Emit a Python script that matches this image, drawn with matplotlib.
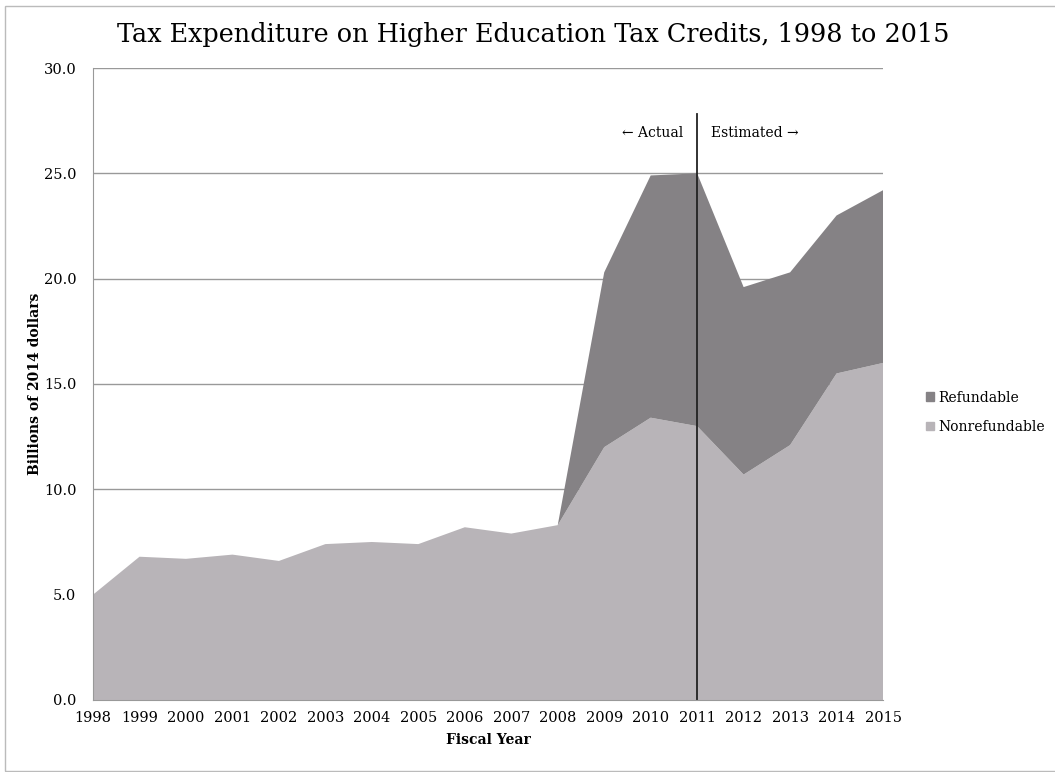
import numpy as np
import matplotlib
matplotlib.use("Agg")
import matplotlib.pyplot as plt
from matplotlib.patches import Rectangle, Patch

# Data (billions of 2014 dollars)
years = list(range(1998, 2016))
nonrefundable = [5.0, 6.8, 6.7, 6.9, 6.6, 7.4, 7.5, 7.4, 8.2, 7.9, 8.3,
                 12.0, 13.4, 13.0, 10.7, 12.1, 15.5, 16.0]
refundable = [0.0, 0.0, 0.0, 0.0, 0.0, 0.0, 0.0, 0.0, 0.0, 0.0, 0.0,
              8.3, 11.5, 12.0, 8.9, 8.2, 7.5, 8.2]
y_ticks = [0, 5, 10, 15, 20, 25, 30]

c_nonref = "#b8b4b8"
c_ref = "#858285"
serif = "DejaVu Serif"

plt.rcParams["font.family"] = serif

fig = plt.figure(figsize=(10.55, 7.72), dpi=100)
ax = fig.add_axes([0.0882, 0.0933, 0.7488, 0.8186])

ax.stackplot(years, nonrefundable, refundable,
             colors=[c_nonref, c_ref], linewidth=0)

ax.set_xlim(1998, 2015)
ax.set_ylim(0, 30)
ax.set_yticks(y_ticks)
ax.set_yticklabels([f"{v:.1f}" for v in y_ticks], fontsize=10.5)
ax.set_xticks(years)
ax.set_xticklabels([str(y) for y in years], fontsize=10.5)
ax.tick_params(axis="x", length=0, pad=8)
ax.tick_params(axis="y", length=0, pad=12)
ax.yaxis.grid(True, color="#999999", linewidth=1)
ax.set_axisbelow(True)
for side in ["top", "right"]:
    ax.spines[side].set_visible(False)
for side in ["left", "bottom"]:
    ax.spines[side].set_color("#999999")

# actual / estimated divider
ax.plot([2011, 2011], [0, 27.8], color="#222222", linewidth=1.3, clip_on=False)
ax.text(2010.7, 26.9, "\u2190 Actual", ha="right", va="center", fontsize=10)
ax.text(2011.3, 26.9, "Estimated \u2192", ha="left", va="center", fontsize=10)

ax.set_xlabel("Fiscal Year", fontsize=10, fontweight="bold", labelpad=6)
ax.set_ylabel("Billions of 2014 dollars", fontsize=10, fontweight="bold", labelpad=1)

fig.text(0.505, 0.955, "Tax Expenditure on Higher Education Tax Credits, 1998 to 2015",
         ha="center", va="center", fontsize=18.4)

handles = [Patch(color=c_ref, label="Refundable"),
           Patch(color=c_nonref, label="Nonrefundable")]
fig.legend(handles=handles, loc="center left", bbox_to_anchor=(0.866, 0.466),
           frameon=False, fontsize=10, handlelength=0.6, handleheight=0.6,
           handletextpad=0.3, labelspacing=1.1)

# outer frame
fig.patches.append(Rectangle((0.005, 0.001), 1.0, 0.991, transform=fig.transFigure,
                             fill=False, edgecolor="#bbbbbb", linewidth=1))

fig.savefig("out.png", dpi=100)
